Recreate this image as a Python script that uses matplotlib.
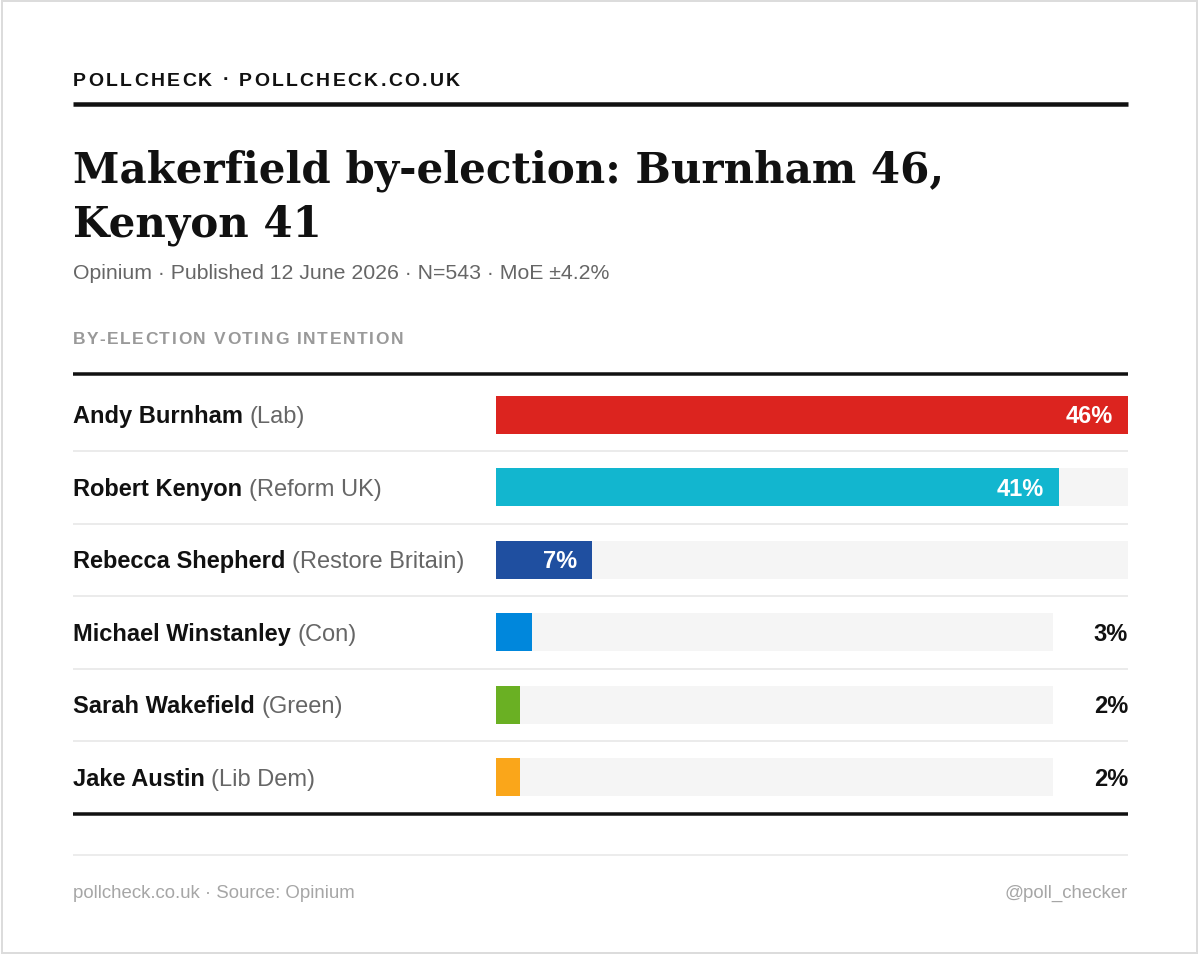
import matplotlib
matplotlib.use("Agg")
import matplotlib.pyplot as plt
from matplotlib.lines import Line2D
from matplotlib.patches import Rectangle

# ---------------- data ----------------
brand = "POLLCHECK · POLLCHECK.CO.UK"
title_lines = ["Makerfield by-election: Burnham 46,", "Kenyon 41"]
subtitle = "Opinium · Published 12 June 2026 · N=543 · MoE ±4.2%"
section = "BY-ELECTION VOTING INTENTION"
candidates = ["Andy Burnham", "Robert Kenyon", "Rebecca Shepherd",
              "Michael Winstanley", "Sarah Wakefield", "Jake Austin"]
parties = ["Lab", "Reform UK", "Restore Britain", "Con", "Green", "Lib Dem"]
shares = [46, 41, 7, 3, 2, 2]
party_colors = ["#DC241F", "#12B6CF", "#1F4FA0", "#0087DC", "#6AB023", "#FAA61A"]
footer_left = "pollcheck.co.uk · Source: Opinium"
footer_right = "@poll_checker"

# ---------------- layout ----------------
W, H, DPI = 1200, 955, 100
SANS = "Liberation Sans"
SERIF = "DejaVu Serif"
PX = 72.0 / DPI  # points per pixel

fig = plt.figure(figsize=(W / DPI, H / DPI), dpi=DPI, facecolor="white")
renderer = fig.canvas.get_renderer()


def fx(px):
    return px / W


def fy(py):
    return 1 - py / H


def text_w(s, **kw):
    t = fig.text(0, 0, s, **kw)
    w = t.get_window_extent(renderer).width
    t.remove()
    return w


def spaced_text(x_px, base_px, s, target_w, **kw):
    full = text_w(s, **kw)
    sp = (target_w - full) / (len(s) - 1)
    for i, ch in enumerate(s):
        if ch == " ":
            continue
        left = text_w(s[: i + 1], **kw) - text_w(ch, **kw) if i > 0 else 0
        fig.text(fx(x_px + left + i * sp), fy(base_px), ch, va="baseline",
                 ha="left", **kw)


L, R = 73, 1128

# outer border
fig.add_artist(Rectangle((fx(1.5), fy(953)), fx(1197) - fx(1.5), fy(1.5) - fy(953),
                         transform=fig.transFigure, fill=False,
                         edgecolor="#dcdcdc", lw=2 * PX))

# brand header
spaced_text(L, 85.5, brand, 387, fontsize=14, family=SANS, weight="bold", color="#111111")
fig.add_artist(Line2D([fx(L), fx(R)], [fy(104), fy(104)], color="#111111", lw=4.5 * PX,
                      solid_capstyle="butt"))

# title
t1 = fig.text(fx(L), fy(183), title_lines[0], fontsize=36, family=SERIF,
              weight="bold", va="baseline", color="#111111")
fs = 36 * 871 / t1.get_window_extent(renderer).width
t1.set_fontsize(fs)
fig.text(fx(L), fy(237), title_lines[1], fontsize=fs, family=SERIF,
         weight="bold", va="baseline", color="#111111")

# subtitle
fig.text(fx(L), fy(279), subtitle, fontsize=15.3, family=SANS, color="#666666",
         va="baseline")

# section label
spaced_text(L, 344, section, 330, fontsize=12.5, family=SANS, weight="bold",
            color="#999999")

# table rules
fig.add_artist(Line2D([fx(L), fx(R)], [fy(374.5), fy(374.5)], color="#111111",
                      lw=3.5 * PX, solid_capstyle="butt"))
fig.add_artist(Line2D([fx(L), fx(R)], [fy(813.5), fy(813.5)], color="#111111",
                      lw=3.5 * PX, solid_capstyle="butt"))

# rows
top_px, bot_px = 378.5, 813.6
n = len(shares)
ax_bg = fig.add_axes([fx(L), fy(bot_px), fx(R) - fx(L), fy(top_px) - fy(bot_px)])
ax_bg.set_xlim(0, 1)
ax_bg.set_ylim(n - 0.5, -0.5)
ax_bg.axis("off")
for i in range(n - 1):
    ax_bg.axhline(i + 0.5, color="#ebebeb", lw=2 * PX)

ax_in = fig.add_axes([fx(496), fy(bot_px), fx(1128) - fx(496), fy(top_px) - fy(bot_px)])
ax_out = fig.add_axes([fx(496), fy(bot_px), fx(1053) - fx(496), fy(top_px) - fy(bot_px)])
vmax = max(shares)
for ax in (ax_in, ax_out):
    ax.set_xlim(0, vmax)
    ax.set_ylim(n - 0.5, -0.5)
    ax.axis("off")
    ax.patch.set_alpha(0)

FS = 17
cap_off = -0.716 * FS / 2
bar_h = 38 / 72.5
for i, (name, party, v, c) in enumerate(zip(candidates, parties, shares, party_colors)):
    inside = v >= 5
    ax = ax_in if inside else ax_out
    ax.barh(i, vmax, height=bar_h, color="#f5f5f5", lw=0)
    ax.barh(i, v, height=bar_h, color=c, lw=0)
    if inside:
        ax.annotate(f"{v}%", xy=(v, i), xytext=(-15 * PX, cap_off),
                    textcoords="offset points", ha="right", va="baseline",
                    color="white", weight="bold", fontsize=FS, family=SANS)
    else:
        ax_bg.annotate(f"{v}%", xy=(1, i), xytext=(0, cap_off),
                       textcoords="offset points", ha="right", va="baseline",
                       color="#111111", weight="bold", fontsize=FS, family=SANS)
    nt = ax_bg.annotate(name, xy=(0, i), xytext=(0, cap_off), textcoords="offset points",
                        ha="left", va="baseline", color="#111111", weight="bold",
                        fontsize=FS, family=SANS)
    nw = nt.get_window_extent(renderer).width
    ax_bg.annotate(f"({party})", xy=(0, i), xytext=(nw * PX + 0.28 * FS, cap_off),
                   textcoords="offset points", ha="left", va="baseline",
                   color="#666666", fontsize=FS, family=SANS)

# footer
fig.add_artist(Line2D([fx(L), fx(R)], [fy(855), fy(855)], color="#e6e6e6",
                      lw=1.5 * PX, solid_capstyle="butt"))
fig.text(fx(L), fy(898), footer_left, fontsize=13.4, family=SANS, color="#a6a6a6",
         va="baseline", ha="left")
fig.text(fx(R), fy(898), footer_right, fontsize=13.4, family=SANS, color="#a6a6a6",
         va="baseline", ha="right")

fig.savefig("out.png", dpi=DPI, facecolor="white")
